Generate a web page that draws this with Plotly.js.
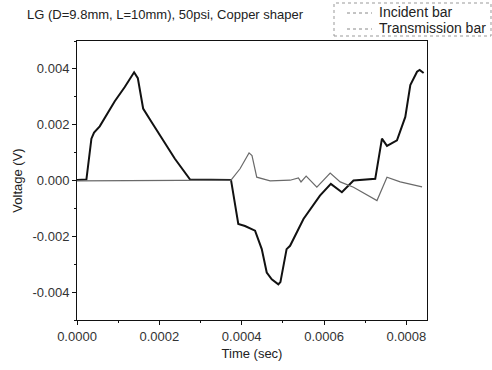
<!DOCTYPE html>
<html>
<head>
<meta charset="utf-8">
<script src="https://cdn.plot.ly/plotly-3.0.1.min.js"></script>
<style>html,body{margin:0;padding:0;background:#fff;}#chart{width:492px;height:370px;}</style>
</head>
<body>
<div id="chart"></div>
<script>
// Incident bar signal (time in s, voltage in V)
const incidentTime = [0, 0.0000229, 0.000035, 0.0000414, 0.0000552, 0.0000917, 0.000116, 0.0001387, 0.0001477, 0.0001606, 0.000181, 0.000206, 0.0002377, 0.0002742, 0.000374, 0.0003917, 0.000408, 0.0004324, 0.0004487, 0.0004608, 0.000473, 0.000489, 0.000494, 0.000509, 0.0005175, 0.00055, 0.00059, 0.0006165, 0.0006433, 0.0006715, 0.0007243, 0.0007406, 0.0007528, 0.0007771, 0.0007973, 0.0008095, 0.0008258, 0.0008321, 0.0008418];
const incidentVolt = [0.00002, 0.00004, 0.0015, 0.00172, 0.00194, 0.00284, 0.00335, 0.00388, 0.00367, 0.00258, 0.0021, 0.0015, 0.00078, 0.00004, 0.00002, -0.00156, -0.00163, -0.0018, -0.00246, -0.0033, -0.00354, -0.00372, -0.00364, -0.00246, -0.00234, -0.00138, -0.00054, -0.00012, -0.00042, 0.0, 0.00006, 0.0015, 0.00124, 0.00144, 0.00228, 0.00342, 0.0039, 0.00396, 0.00385];

// Transmission bar signal
const transTime = [0, 0.000374, 0.0003959, 0.0004178, 0.000425, 0.0004365, 0.000469, 0.0005175, 0.0005377, 0.000544, 0.0005565, 0.0005825, 0.0006149, 0.0006392, 0.0006715, 0.0007285, 0.0007528, 0.000785, 0.000838];
const transVolt = [-0.00001, 0.00001, 0.00042, 0.00099, 0.00089, 0.00012, -0.00001, 0.00001, 0.00009, -0.00005, 0.00016, -0.00024, 0.00027, -0.00005, -0.00024, -0.00072, 0.00012, -0.00005, -0.00023];

const seriesNames = ["Incident bar", "Transmission bar"];
const yTickVals = [-0.004, -0.002, 0, 0.002, 0.004];
const yTickText = ["-0.004", "-0.002", "0.000", "0.002", "0.004"];

const font = "Liberation Sans, Arial, sans-serif";
const W = 492, H = 370, L = 77, R = 65, T = 41, B = 50;
const pw = W - L - R, ph = H - T - B;
const px = v => (v - L) / pw;          // pixel x -> paper x
const py = v => (H - B - v) / ph;      // pixel y -> paper y

const traces = [
  {x: incidentTime, y: incidentVolt, mode: "lines", name: seriesNames[0], line: {color: "#111", width: 2}, showlegend: false, hoverinfo: "skip"},
  {x: transTime, y: transVolt, mode: "lines", name: seriesNames[1], line: {color: "#6a6a6a", width: 1.2}, showlegend: false, hoverinfo: "skip"}
];

const legendRows = [12, 28];
const annotations = seriesNames.map((n, i) => ({
  xref: "paper", yref: "paper", x: px(378), y: py(legendRows[i]), xanchor: "left", yanchor: "middle",
  text: n, showarrow: false, borderpad: 0, font: {family: font, size: 14, color: "#222"}
}));
const shapes = [
  {type: "rect", xref: "paper", yref: "paper", x0: px(334), x1: px(491), y0: py(36), y1: py(3), line: {color: "#999", width: 1, dash: "dot"}}
].concat(legendRows.map(r => ({
  type: "line", xref: "paper", yref: "paper", x0: px(347), x1: px(372), y0: py(r + 1), y1: py(r + 1), line: {color: "#888", width: 1, dash: "dot"}
})));

const layout = {
  width: W, height: H,
  margin: {l: L, r: R, t: T, b: B, autoexpand: false},
  paper_bgcolor: "#fff", plot_bgcolor: "#fff",
  font: {family: font, size: 13, color: "#333"},
  showlegend: false,
  title: {text: "LG (D=9.8mm, L=10mm), 50psi, Copper shaper", x: 0.055, xanchor: "left", y: 0.962, yanchor: "middle", xref: "container", yref: "container", font: {family: font, size: 13, color: "#222"}},
  xaxis: {
    range: [0, 0.00085], dtick: 0.0002, tick0: 0, tickformat: ".4f",
    showgrid: false, zeroline: false, showline: true, linecolor: "#111", linewidth: 1, mirror: true,
    ticks: "outside", ticklen: 4, tickcolor: "#111",
    minor: {dtick: 0.0001, tick0: 0, ticks: "outside", ticklen: 2, tickcolor: "#111", showgrid: false},
    title: {text: "Time (sec)", font: {family: font, size: 13, color: "#222"}, standoff: 6},
    tickfont: {family: font, size: 13, color: "#333"}
  },
  yaxis: {
    range: [-0.005, 0.005], tickmode: "array", tickvals: yTickVals, ticktext: yTickText,
    showgrid: false, zeroline: false, showline: true, linecolor: "#111", linewidth: 1, mirror: true,
    ticks: "outside", ticklen: 4, tickcolor: "#111",
    minor: {dtick: 0.001, tick0: 0, ticks: "outside", ticklen: 2, tickcolor: "#111", showgrid: false},
    title: {text: "Voltage (V)", font: {family: font, size: 13, color: "#222"}, standoff: 6},
    tickfont: {family: font, size: 13, color: "#333"}
  },
  annotations: annotations,
  shapes: shapes
};

Plotly.newPlot("chart", traces, layout, {displayModeBar: false, staticPlot: true});
</script>
</body>
</html>
